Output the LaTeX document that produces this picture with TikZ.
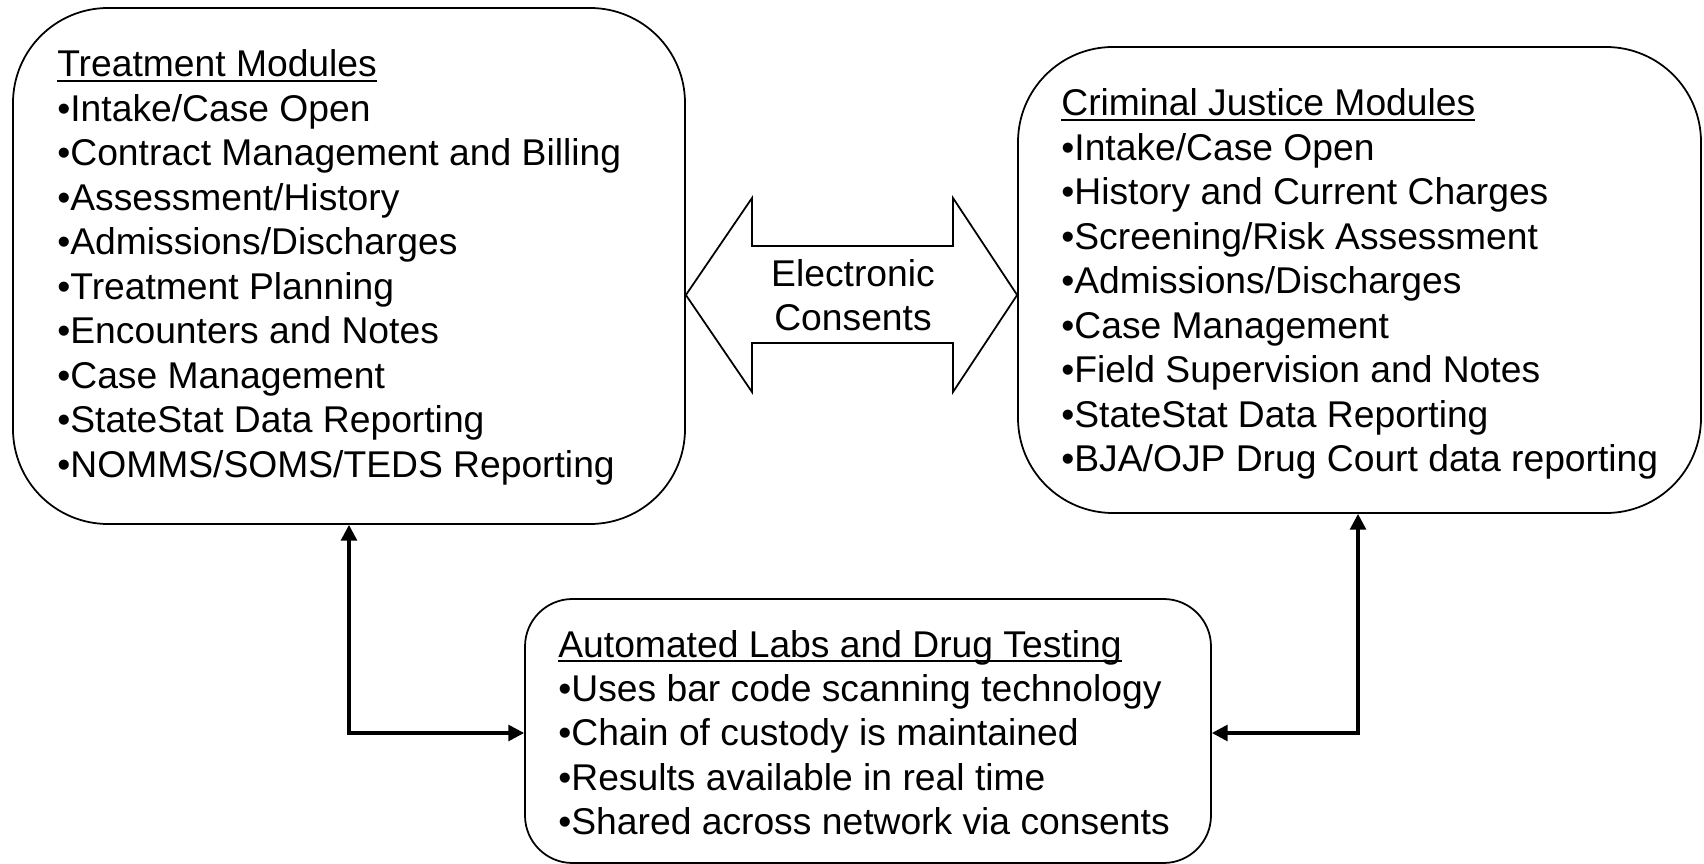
\documentclass[tikz,border=0pt]{standalone}
\usepackage{fontspec}
\setmainfont{Liberation Sans}
\usetikzlibrary{arrows.meta,fit}
\newcommand\ulx[1]{\setbox0\hbox{#1}\rlap{\rule[-3pt]{\wd0}{1.4pt}}\box0}
\newcommand\blines[1]{\vtop{\baselineskip=25.3pt\lineskiplimit=-100pt\lineskip=0pt\halign{##\hfil\cr#1\crcr}}}
\newcommand\clines[1]{\vtop{\baselineskip=24.5pt\lineskiplimit=-100pt\lineskip=0pt\halign{\hfil##\hfil\cr#1\crcr}}}
\begin{document}
\begin{tikzpicture}[x=0.02cm,y=-0.02cm,
  box/.style={draw, line width=1pt, rounded corners=1.9cm, inner sep=0pt},
  labbox/.style={box, rounded corners=0.95cm},
  txt/.style={anchor=base west, inner sep=0pt, font=\fontsize{21.2}{25.3}\selectfont},
  conn/.style={line width=1.9pt, {Triangle[length=9pt,width=9pt]}-{Triangle[length=9pt,width=9pt]}},
  bigarrow/.style={draw, line width=1pt, line join=miter},
]
\useasboundingbox (0,0) rectangle (1704,864);

\node[box, fit={(13,8) (685,524)}] (treat) {};
\node[box, fit={(1018,47) (1701,513)}] (cj) {};
\node[labbox, fit={(525,599) (1211,863)}] (lab) {};

\node[txt] (treattxt) at (57,77) {\blines{%
\ulx{Treatment Modules}\cr
•Intake/Case Open\cr
•Contract Management and Billing\cr
•Assessment/History\cr
•Admissions/Discharges\cr
•Treatment Planning\cr
•Encounters and Notes\cr
•Case Management\cr
•StateStat Data Reporting\cr
•NOMMS/SOMS/TEDS Reporting\cr}};

\node[txt] (cjtxt) at (1061,116) {\blines{%
\ulx{Criminal Justice Modules}\cr
•Intake/Case Open\cr
•History and Current Charges\cr
•Screening/Risk Assessment\cr
•Admissions/Discharges\cr
•Case Management\cr
•Field Supervision and Notes\cr
•StateStat Data Reporting\cr
•BJA/OJP Drug Court data reporting\cr}};

\node[txt] (labtxt) at (558,657) {\blines{%
\ulx{Automated Labs and Drug Testing}\cr
•Uses bar code scanning technology\cr
•Chain of custody is maintained\cr
•Results available in real time\cr
•Shared across network via consents\cr}};

\draw[bigarrow] (treat.east |- 0,295) -- (752,198) -- (752,246) -- (953,246) -- (953,198)
  -- (cj.west |- 0,295) -- (953,392) -- (953,343) -- (752,343) -- (752,392) -- cycle;
\node[txt, anchor=base] (consent) at (853,287) {\clines{Electronic\cr Consents\cr}};

\coordinate (c1) at (349,733);
\coordinate (c2) at (1358,733);
\draw[conn] (treat.south -| c1) -- (c1) -- (lab.west |- c1);
\draw[conn] (cj.south -| c2) -- (c2) -- (lab.east |- c2);
\end{tikzpicture}
\end{document}
